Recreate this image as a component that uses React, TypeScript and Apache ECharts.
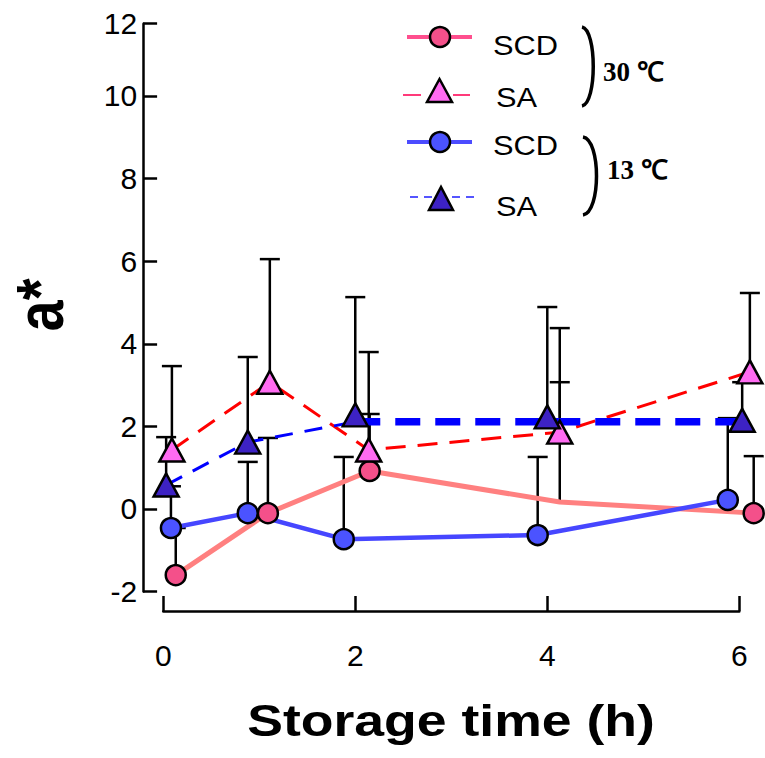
import React, { useEffect, useRef } from "react";
import * as echarts from "echarts";

// ---- data ----
const x30SCD = [0.13, 1.09, 2.15, 4.13, 6.15];
const y30SCD = [-1.6, -0.1, 0.92, 0.17, -0.1];
const top30SCD = [-0.46, 1.72, 2.3, 3.07, 1.28];
const shown30SCD = [true, true, true, false, true];

const x30SA = [0.09, 1.11, 2.14, 4.13, 6.11];
const y30SA = [1.43, 3.07, 1.43, 1.86, 3.32];
const top30SA = [3.46, 6.05, 3.8, 4.38, 5.23];

const x13SCD = [0.08, 0.88, 1.88, 3.9, 5.88];
const y13SCD = [-0.46, -0.1, -0.73, -0.63, 0.22];
const top13SCD = [0.55, 1.14, 1.26, 1.26, 2.2];

const x13SA = [0.03, 0.88, 2.0, 4.0, 6.03];
const y13SA = [0.58, 1.62, 2.28, 2.23, 2.15];
const top13SA = [1.74, 3.68, 5.13, 4.89, 3.07];

// dashed connecting line of 13 °C SA (thin part, then thick plateau)
const x13SAThin = [0.03, 0.88, 2.0];
const y13SAThin = [0.58, 1.62, 2.11];
const x13SAThick = [2.0, 6.0];
const y13SAThick = [2.11, 2.11];

const xTickValues = [0, 2, 4, 6];
const yTickValues = [-2, 0, 2, 4, 6, 8, 10, 11.75];
const yTickLabels = ["-2", "0", "2", "4", "6", "8", "10", "12"];

const zip = (xs: number[], ys: number[]) => xs.map((x, i) => [x, ys[i]]);
const errData = (xs: number[], ys: number[], tops: number[]) =>
  xs.map((x, i) => [x, ys[i], tops[i]]);

const SANS = '"Liberation Sans", Arial, sans-serif';
const SERIF = '"Liberation Serif", "Times New Roman", serif';

function errorSeries(name: string, data: number[][]) {
  return {
    type: "custom",
    name,
    xAxisIndex: 0,
    yAxisIndex: 0,
    z: 1,
    data,
    encode: { x: 0, y: [1, 2] },
    renderItem: (params: any, api: any) => {
      const x = api.value(0);
      const p0 = api.coord([x, api.value(1)]);
      const p1 = api.coord([x, api.value(2)]);
      const st = { stroke: "#000", lineWidth: 2.5 };
      return {
        type: "group",
        children: [
          { type: "line", shape: { x1: p0[0], y1: p0[1], x2: p1[0], y2: p1[1] }, style: st },
          { type: "line", shape: { x1: p1[0] - 10, y1: p1[1], x2: p1[0] + 10, y2: p1[1] }, style: st },
        ],
      };
    },
  };
}

function lineSeries(name: string, data: number[][], color: string, width: number, dash: any) {
  return {
    type: "line",
    name,
    xAxisIndex: 0,
    yAxisIndex: 0,
    z: 2,
    data,
    symbol: "none",
    lineStyle: { color, width, type: dash },
  };
}

function markerSeries(name: string, data: any[], symbol: string, size: any, fill: string) {
  return {
    type: "scatter",
    name,
    xAxisIndex: 0,
    yAxisIndex: 0,
    z: 3,
    data,
    symbol,
    symbolSize: size,
    itemStyle: { color: fill, borderColor: "#000", borderWidth: 2.5, opacity: 1 },
  };
}

export default function App() {
  const ref = useRef<HTMLDivElement>(null);

  useEffect(() => {
    if (!ref.current) return;
    const chart = echarts.init(ref.current, null, { renderer: "svg" });

    const pink = "#F4508A";
    const pinkTri = "#FF6BF2";
    const blue = "#4B53FF";
    const blueTri = "#3D22C4";

    const d30SCDMarkers = x30SCD.map((x, i) =>
      shown30SCD[i] ? [x, y30SCD[i]] : { value: [x, y30SCD[i]], symbolSize: 0, itemStyle: { opacity: 0 } }
    );

    const bracket = (x: number, y1: number, y2: number, bulge: number) => ({
      type: "bezierCurve",
      shape: { x1: x, y1, x2: x, y2, cpx1: x + bulge, cpy1: y1 + 3, cpx2: x + bulge, cpy2: y2 - 3 },
      style: { stroke: "#000", lineWidth: 3.5, fill: "none" },
    });

    const option: any = {
      animation: false,
      backgroundColor: "#fff",
      grid: [
        { left: 143.1, right: 6.5, top: 23.7, bottom: 166.4 },
        { left: 163.3, right: 25.7, bottom: 147, height: 20 },
      ],
      xAxis: [
        { gridIndex: 0, type: "value", min: -0.21, max: 6.2, show: false },
        {
          gridIndex: 1,
          type: "value",
          min: 0,
          max: 6,
          interval: 2,
          axisLine: { show: true, onZero: false, lineStyle: { color: "#000", width: 2.5 } },
          axisTick: { show: true, inside: true, length: 15, lineStyle: { color: "#000", width: 2.5 } },
          axisLabel: {
            margin: 29,
            fontSize: 30,
            color: "#000",
            fontFamily: SANS,
            customValues: xTickValues,
          },
          splitLine: { show: false },
        },
      ],
      yAxis: [
        {
          gridIndex: 0,
          type: "value",
          min: -2,
          max: 11.75,
          axisLine: { show: true, onZero: false, lineStyle: { color: "#000", width: 2.5 } },
          axisTick: {
            show: true,
            inside: true,
            length: 14,
            customValues: yTickValues,
            lineStyle: { color: "#000", width: 2.5 },
          },
          axisLabel: {
            customValues: yTickValues,
            formatter: (v: number) => {
              const i = yTickValues.indexOf(v);
              return i >= 0 ? yTickLabels[i] : "";
            },
            margin: 6,
            fontSize: 30,
            color: "#000",
            fontFamily: SANS,
          },
          splitLine: { show: false },
        },
        { gridIndex: 1, type: "value", min: 0, max: 1, show: false },
      ],
      series: [
        errorSeries("err30SCD", errData(x30SCD, y30SCD, top30SCD)),
        errorSeries("err30SA", errData(x30SA, y30SA, top30SA)),
        errorSeries("err13SCD", errData(x13SCD, y13SCD, top13SCD)),
        errorSeries("err13SA", errData(x13SA, y13SA, top13SA)),
        lineSeries("line30SCD", zip(x30SCD, y30SCD), "#FF8080", 5, "solid"),
        lineSeries("line13SCD", zip(x13SCD, y13SCD), "#4646FF", 4.5, "solid"),
        lineSeries("line30SA", zip(x30SA, y30SA), "#FF0000", 3, [20, 12]),
        lineSeries("line13SAThin", zip(x13SAThin, y13SAThin), "#0000FF", 3, [18, 12]),
        lineSeries("line13SAThick", zip(x13SAThick, y13SAThick), "#0000FF", 7.5, [25, 15]),
        markerSeries("SCD 30", d30SCDMarkers, "circle", 20, pink),
        markerSeries("SA 30", zip(x30SA, y30SA), "triangle", [25, 23], pinkTri),
        markerSeries("SCD 13", zip(x13SCD, y13SCD), "circle", 20, blue),
        markerSeries("SA 13", zip(x13SA, y13SA), "triangle", [25, 23], blueTri),
      ],
      graphic: [
        // axis titles
        {
          type: "text",
          x: 40,
          y: 305,
          rotation: Math.PI / 2,
          scaleY: 1.2,
          style: { text: "a*", font: `bold 56px ${SANS}`, fill: "#000", align: "center", verticalAlign: "middle" },
        },
        {
          type: "text",
          x: 451,
          y: 720,
          scaleX: 1.19,
          style: {
            text: "Storage time (h)",
            font: `bold 45px ${SANS}`,
            fill: "#000",
            align: "center",
            verticalAlign: "middle",
          },
        },
        // legend: 30 °C SCD
        { type: "line", shape: { x1: 407, y1: 37, x2: 472, y2: 37 }, style: { stroke: "#FF4F8E", lineWidth: 4 } },
        { type: "circle", shape: { cx: 440, cy: 37, r: 10 }, style: { fill: pink, stroke: "#000", lineWidth: 2.5 } },
        {
          type: "text",
          x: 493,
          y: 45,
          scaleX: 1.1,
          style: { text: "SCD", font: `28px ${SANS}`, fill: "#000", align: "left", verticalAlign: "middle" },
        },
        // legend: 30 °C SA
        { type: "line", shape: { x1: 403, y1: 95, x2: 421, y2: 95 }, style: { stroke: "#FF3A7A", lineWidth: 2 } },
        { type: "line", shape: { x1: 453, y1: 95, x2: 470, y2: 95 }, style: { stroke: "#FF3A7A", lineWidth: 2 } },
        {
          type: "polygon",
          shape: { points: [[427, 102], [452, 102], [439.5, 79]] },
          style: { fill: pinkTri, stroke: "#000", lineWidth: 2.5 },
        },
        {
          type: "text",
          x: 496,
          y: 97,
          scaleX: 1.1,
          style: { text: "SA", font: `28px ${SANS}`, fill: "#000", align: "left", verticalAlign: "middle" },
        },
        bracket(582, 27, 106, 15),
        {
          type: "text",
          x: 603,
          y: 72,
          style: { text: "30 ℃", font: `bold 27px ${SERIF}`, fill: "#000", align: "left", verticalAlign: "middle" },
        },
        // legend: 13 °C SCD
        { type: "line", shape: { x1: 407, y1: 142, x2: 472, y2: 142 }, style: { stroke: "#4C4CFF", lineWidth: 4 } },
        { type: "circle", shape: { cx: 440, cy: 142, r: 10 }, style: { fill: blue, stroke: "#000", lineWidth: 2.5 } },
        {
          type: "text",
          x: 493,
          y: 145,
          scaleX: 1.1,
          style: { text: "SCD", font: `28px ${SANS}`, fill: "#000", align: "left", verticalAlign: "middle" },
        },
        // legend: 13 °C SA
        {
          type: "line",
          shape: { x1: 410, y1: 197, x2: 478, y2: 197 },
          style: { stroke: "#5555FF", lineWidth: 2, lineDash: [8, 6] },
        },
        {
          type: "polygon",
          shape: { points: [[429, 210], [453, 210], [441, 187]] },
          style: { fill: blueTri, stroke: "#000", lineWidth: 2.5 },
        },
        {
          type: "text",
          x: 496,
          y: 206,
          scaleX: 1.1,
          style: { text: "SA", font: `28px ${SANS}`, fill: "#000", align: "left", verticalAlign: "middle" },
        },
        bracket(583, 137, 215, 18),
        {
          type: "text",
          x: 607,
          y: 170,
          style: { text: "13 ℃", font: `bold 27px ${SERIF}`, fill: "#000", align: "left", verticalAlign: "middle" },
        },
      ],
    };

    chart.setOption(option);
    return () => chart.dispose();
  }, []);

  return <div ref={ref} style={{ width: 765, height: 758, position: "absolute", left: 0, top: 0 }} />;
}
